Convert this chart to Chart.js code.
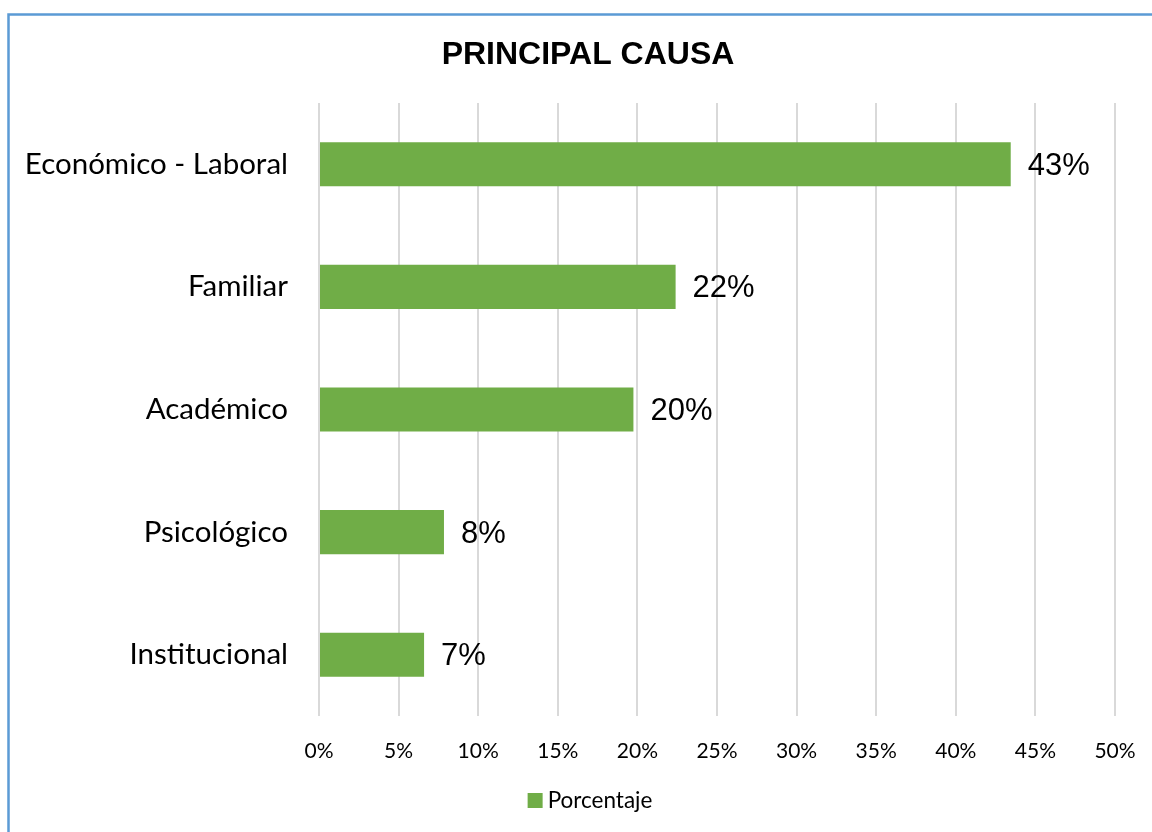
<!DOCTYPE html>
<html>
<head>
<meta charset="utf-8">
<script src="https://cdn.jsdelivr.net/npm/chart.js@4/dist/chart.umd.min.js"></script>
<style>
  html, body { margin: 0; padding: 0; background: #fff; }
  #wrap { width: 1152px; height: 832px; position: relative; }
</style>
</head>
<body>
<div id="wrap"><canvas id="c" width="1152" height="832"></canvas></div>
<script>
const categories = ["Económico - Laboral", "Familiar", "Académico", "Psicológico", "Institucional"];
const porcentaje = [43.45, 22.4, 19.75, 7.85, 6.6];
const seriesName = "Porcentaje";
const chartTitle = "PRINCIPAL CAUSA";
const xTicksStep = 5;
const xMax = 50;

const borderPlugin = {
  id: 'frame',
  beforeDraw(chart) {
    const ctx = chart.ctx;
    ctx.save();
    ctx.fillStyle = '#fff';
    ctx.fillRect(0, 0, chart.width, chart.height);
    ctx.strokeStyle = '#5b9bd5';
    ctx.lineWidth = 2.5;
    ctx.beginPath();
    ctx.moveTo(8.5, chart.height);
    ctx.lineTo(8.5, 14.5);
    ctx.lineTo(chart.width, 14.5);
    ctx.stroke();
    ctx.restore();
  }
};

const labelPlugin = {
  id: 'valueLabels',
  afterDatasetsDraw(chart) {
    const ctx = chart.ctx;
    const meta = chart.getDatasetMeta(0);
    ctx.save();
    ctx.font = '31px "Liberation Sans", Arial, sans-serif';
    ctx.fillStyle = '#000';
    ctx.textAlign = 'left';
    ctx.textBaseline = 'middle';
    meta.data.forEach((bar, i) => {
      const v = chart.data.datasets[0].data[i];
      ctx.fillText(Math.round(v) + '%', bar.x + 17, bar.y + 2);
    });
    ctx.restore();
  }
};

const titleLegendPlugin = {
  id: 'titleLegend',
  afterDraw(chart) {
    const ctx = chart.ctx;
    const ds = chart.data.datasets[0];
    ctx.save();
    // title
    ctx.font = 'bold 32px "Liberation Sans", Arial, sans-serif';
    ctx.fillStyle = '#000';
    ctx.textAlign = 'center';
    ctx.textBaseline = 'middle';
    ctx.fillText(chartTitle, 588, 55);
    // legend
    ctx.font = '22.5px Lato, "Open Sans", sans-serif';
    const tw = ctx.measureText(ds.label).width;
    const total = 15 + 5 + tw;
    const x0 = 590 - total / 2;
    ctx.fillStyle = ds.backgroundColor;
    ctx.fillRect(x0, 793, 15, 15);
    ctx.fillStyle = '#000';
    ctx.textAlign = 'left';
    ctx.fillText(ds.label, x0 + 20, 801);
    ctx.restore();
  }
};

new Chart(document.getElementById('c'), {
  type: 'bar',
  data: {
    labels: categories,
    datasets: [{
      label: seriesName,
      data: porcentaje,
      backgroundColor: '#70ad47',
      borderWidth: 0,
      categoryPercentage: 1,
      barPercentage: 0.36
    }]
  },
  options: {
    indexAxis: 'y',
    responsive: false,
    animation: false,
    devicePixelRatio: 1,
    layout: { padding: { left: 0, right: 37, top: 103, bottom: 51 } },
    plugins: {
      title: { display: false },
      legend: { display: false },
      tooltip: { enabled: false }
    },
    scales: {
      x: {
        min: 0,
        max: xMax,
        ticks: {
          stepSize: xTicksStep,
          color: '#000',
          padding: 23,
          font: { family: 'Lato, "Open Sans", sans-serif', size: 21 },
          callback: (v) => v + '%'
        },
        grid: { color: '#d9d9d9', lineWidth: 2, drawTicks: false },
        border: { display: false },
        afterFit(scale) { scale.height = 65; scale.paddingLeft = 0; scale.paddingRight = 0; }
      },
      y: {
        ticks: {
          color: '#000',
          padding: 31,
          font: { family: 'Lato, "Open Sans", sans-serif', size: 29.5 }
        },
        grid: { display: false, drawTicks: false },
        border: { display: false },
        afterFit(scale) { scale.width = 319; }
      }
    }
  },
  plugins: [borderPlugin, labelPlugin, titleLegendPlugin]
});
</script>
</body>
</html>
